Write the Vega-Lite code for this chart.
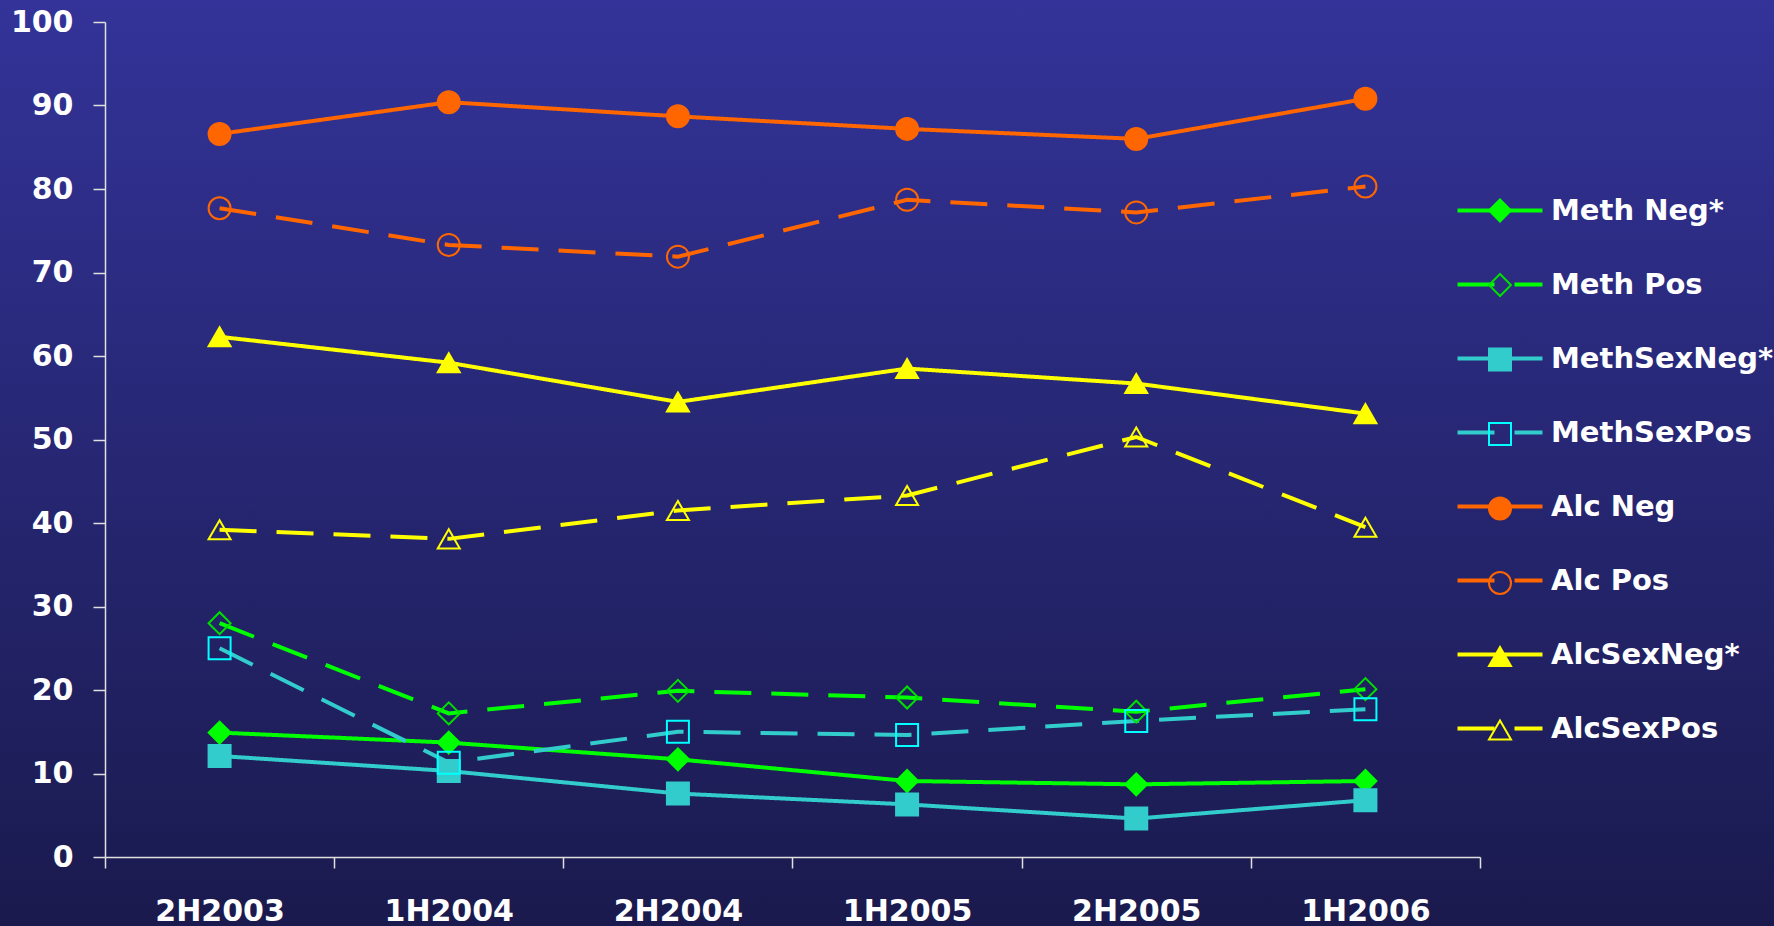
{
  "$schema": "https://vega.github.io/schema/vega-lite/v6.json",
  "width": 1774,
  "height": 926,
  "autosize": {"type": "none"},
  "padding": 0,
  "background": "#262672",
  "config": {
    "view": {
      "stroke": null,
      "fill": {"gradient": "linear", "x1": 0, "y1": 0, "x2": 0, "y2": 1,
        "stops": [{"offset": 0, "color": "#333399"}, {"offset": 1, "color": "#1a1a4e"}]}
    },
    "axis": {
      "labelFont": "DejaVu Sans", "labelFontSize": 30, "labelFontWeight": "bold", "labelColor": "#ffffff",
      "domainColor": "#e0e0e0", "domainWidth": 1.5, "tickColor": "#e0e0e0", "tickWidth": 1.5,
      "grid": false, "title": null
    },
    "legend": {
      "labelFont": "DejaVu Sans", "labelFontSize": 29, "labelFontWeight": "bold", "labelColor": "#ffffff", "labelLimit": 400
    }
  },
  "data": {"values": [
    {"period": "2H2003", "series": "Meth Neg*", "marker": "Meth Neg", "value": 14.9},
    {"period": "1H2004", "series": "Meth Neg*", "marker": "Meth Neg", "value": 13.7},
    {"period": "2H2004", "series": "Meth Neg*", "marker": "Meth Neg", "value": 11.7},
    {"period": "1H2005", "series": "Meth Neg*", "marker": "Meth Neg", "value": 9.1},
    {"period": "2H2005", "series": "Meth Neg*", "marker": "Meth Neg", "value": 8.7},
    {"period": "1H2006", "series": "Meth Neg*", "marker": "Meth Neg", "value": 9.1},
    {"period": "2H2003", "series": "Meth Pos", "marker": "Meth Pos", "value": 28.0},
    {"period": "1H2004", "series": "Meth Pos", "marker": "Meth Pos", "value": 17.2},
    {"period": "2H2004", "series": "Meth Pos", "marker": "Meth Pos", "value": 19.9},
    {"period": "1H2005", "series": "Meth Pos", "marker": "Meth Pos", "value": 19.1},
    {"period": "2H2005", "series": "Meth Pos", "marker": "Meth Pos", "value": 17.4},
    {"period": "1H2006", "series": "Meth Pos", "marker": "Meth Pos", "value": 20.1},
    {"period": "2H2003", "series": "MethSexNeg*", "marker": "MethSexNeg", "value": 12.1},
    {"period": "1H2004", "series": "MethSexNeg*", "marker": "MethSexNeg", "value": 10.3},
    {"period": "2H2004", "series": "MethSexNeg*", "marker": "MethSexNeg", "value": 7.6},
    {"period": "1H2005", "series": "MethSexNeg*", "marker": "MethSexNeg", "value": 6.3},
    {"period": "2H2005", "series": "MethSexNeg*", "marker": "MethSexNeg", "value": 4.6},
    {"period": "1H2006", "series": "MethSexNeg*", "marker": "MethSexNeg", "value": 6.8},
    {"period": "2H2003", "series": "MethSexPos", "marker": "MethSexPos", "value": 25.0},
    {"period": "1H2004", "series": "MethSexPos", "marker": "MethSexPos", "value": 11.3},
    {"period": "2H2004", "series": "MethSexPos", "marker": "MethSexPos", "value": 15.0},
    {"period": "1H2005", "series": "MethSexPos", "marker": "MethSexPos", "value": 14.6},
    {"period": "2H2005", "series": "MethSexPos", "marker": "MethSexPos", "value": 16.3},
    {"period": "1H2006", "series": "MethSexPos", "marker": "MethSexPos", "value": 17.7},
    {"period": "2H2003", "series": "Alc Neg", "marker": "Alc Neg ", "value": 86.6},
    {"period": "1H2004", "series": "Alc Neg", "marker": "Alc Neg ", "value": 90.4},
    {"period": "2H2004", "series": "Alc Neg", "marker": "Alc Neg ", "value": 88.7},
    {"period": "1H2005", "series": "Alc Neg", "marker": "Alc Neg ", "value": 87.2},
    {"period": "2H2005", "series": "Alc Neg", "marker": "Alc Neg ", "value": 86.0},
    {"period": "1H2006", "series": "Alc Neg", "marker": "Alc Neg ", "value": 90.8},
    {"period": "2H2003", "series": "Alc Pos", "marker": "Alc Pos ", "value": 77.7},
    {"period": "1H2004", "series": "Alc Pos", "marker": "Alc Pos ", "value": 73.3},
    {"period": "2H2004", "series": "Alc Pos", "marker": "Alc Pos ", "value": 71.9},
    {"period": "1H2005", "series": "Alc Pos", "marker": "Alc Pos ", "value": 78.7},
    {"period": "2H2005", "series": "Alc Pos", "marker": "Alc Pos ", "value": 77.2},
    {"period": "1H2006", "series": "Alc Pos", "marker": "Alc Pos ", "value": 80.3},
    {"period": "2H2003", "series": "AlcSexNeg*", "marker": "AlcSexNeg", "value": 62.3},
    {"period": "1H2004", "series": "AlcSexNeg*", "marker": "AlcSexNeg", "value": 59.2},
    {"period": "2H2004", "series": "AlcSexNeg*", "marker": "AlcSexNeg", "value": 54.5},
    {"period": "1H2005", "series": "AlcSexNeg*", "marker": "AlcSexNeg", "value": 58.5},
    {"period": "2H2005", "series": "AlcSexNeg*", "marker": "AlcSexNeg", "value": 56.7},
    {"period": "1H2006", "series": "AlcSexNeg*", "marker": "AlcSexNeg", "value": 53.1},
    {"period": "2H2003", "series": "AlcSexPos", "marker": "AlcSexPos ", "value": 39.2},
    {"period": "1H2004", "series": "AlcSexPos", "marker": "AlcSexPos ", "value": 38.1},
    {"period": "2H2004", "series": "AlcSexPos", "marker": "AlcSexPos ", "value": 41.5},
    {"period": "1H2005", "series": "AlcSexPos", "marker": "AlcSexPos ", "value": 43.3},
    {"period": "2H2005", "series": "AlcSexPos", "marker": "AlcSexPos ", "value": 50.3},
    {"period": "1H2006", "series": "AlcSexPos", "marker": "AlcSexPos ", "value": 39.5}
  ]},
  "encoding": {
    "x": {
      "field": "period", "type": "nominal",
      "scale": {"type": "band", "domain": ["2H2003", "1H2004", "2H2004", "1H2005", "2H2005", "1H2006"],
        "range": [105, 1480], "paddingInner": 0, "paddingOuter": 0},
      "axis": {"orient": "bottom", "offset": -69, "tickBand": "extent", "tickSize": 11, "labelPadding": 28, "labelAngle": 0}
    },
    "y": {
      "field": "value", "type": "quantitative",
      "scale": {"domain": [0, 100], "range": [857, 22], "nice": false, "zero": true},
      "axis": {"orient": "left", "offset": -105, "values": [0, 10, 20, 30, 40, 50, 60, 70, 80, 90, 100], "tickSize": 12, "labelPadding": 20}
    }
  },
  "layer": [
    {
      "mark": {"type": "line", "strokeWidth": 4, "strokeCap": "butt"},
      "encoding": {
        "color": {
          "field": "series", "type": "nominal",
          "scale": {"domain": ["Meth Neg*", "Meth Pos", "MethSexNeg*", "MethSexPos", "Alc Neg", "Alc Pos", "AlcSexNeg*", "AlcSexPos"],
            "range": ["#00ff00", "#00ff00", "#33cccc", "#33cccc", "#ff6600", "#ff6600", "#ffff00", "#ffff00"]},
          "legend": {"orient": "none", "legendX": 1455.5, "legendY": 166, "title": null, "padding": 0, "symbolOffset": 0,
            "symbolType": "stroke", "symbolSize": 7225, "symbolStrokeWidth": 4, "labelOffset": 6.5, "rowPadding": 14, "zindex": 0}
        },
        "strokeDash": {
          "field": "series", "type": "nominal",
          "scale": {"domain": ["Meth Neg*", "Meth Pos", "MethSexNeg*", "MethSexPos", "Alc Neg", "Alc Pos", "AlcSexNeg*", "AlcSexPos"],
            "range": [[1, 0], [37, 20], [1, 0], [37, 20], [1, 0], [37, 20], [1, 0], [37, 20]]},
          "legend": {"orient": "none", "legendX": 1455.5, "legendY": 166, "title": null, "padding": 0, "symbolOffset": 0,
            "symbolType": "stroke", "symbolSize": 7225, "symbolStrokeWidth": 4, "labelOffset": 6.5, "rowPadding": 14, "zindex": 0}
        }
      }
    },
    {
      "mark": {"type": "point", "strokeWidth": 2, "opacity": 1},
      "encoding": {
        "shape": {
          "field": "marker", "type": "nominal",
          "scale": {"domain": ["Meth Neg", "Meth Pos", "MethSexNeg", "MethSexPos", "Alc Neg ", "Alc Pos ", "AlcSexNeg", "AlcSexPos "],
            "range": ["diamond", "diamond", "square", "square", "circle", "circle", "triangle-up", "triangle-up"]},
          "legend": {"orient": "none", "legendX": 1485.5, "legendY": 196, "title": null, "padding": 0, "symbolOffset": 0,
            "symbolStrokeWidth": 2, "labelExpr": "''", "rowPadding": 43.5, "zindex": 1}
        },
        "fill": {
          "field": "marker", "type": "nominal",
          "scale": {"domain": ["Meth Neg", "Meth Pos", "MethSexNeg", "MethSexPos", "Alc Neg ", "Alc Pos ", "AlcSexNeg", "AlcSexPos "],
            "range": ["#00ff00", "transparent", "#33cccc", "transparent", "#ff6600", "transparent", "#ffff00", "transparent"]},
          "legend": {"orient": "none", "legendX": 1485.5, "legendY": 196, "title": null, "padding": 0, "symbolOffset": 0,
            "symbolStrokeWidth": 2, "labelExpr": "''", "rowPadding": 43.5, "zindex": 1}
        },
        "stroke": {
          "field": "marker", "type": "nominal",
          "scale": {"domain": ["Meth Neg", "Meth Pos", "MethSexNeg", "MethSexPos", "Alc Neg ", "Alc Pos ", "AlcSexNeg", "AlcSexPos "],
            "range": ["#00ff00", "#00e000", "#33cccc", "#00ffff", "#ff6600", "#ff6600", "#ffff00", "#ffff00"]},
          "legend": {"orient": "none", "legendX": 1485.5, "legendY": 196, "title": null, "padding": 0, "symbolOffset": 0,
            "symbolStrokeWidth": 2, "labelExpr": "''", "rowPadding": 43.5, "zindex": 1}
        },
        "size": {
          "field": "marker", "type": "nominal",
          "scale": {"domain": ["Meth Neg", "Meth Pos", "MethSexNeg", "MethSexPos", "Alc Neg ", "Alc Pos ", "AlcSexNeg", "AlcSexPos "],
            "range": [484, 484, 441, 441, 484, 484, 625, 625]},
          "legend": {"orient": "none", "legendX": 1485.5, "legendY": 196, "title": null, "padding": 0, "symbolOffset": 0,
            "symbolStrokeWidth": 2, "labelExpr": "''", "rowPadding": 43.5, "zindex": 1}
        }
      }
    }
  ]
}
